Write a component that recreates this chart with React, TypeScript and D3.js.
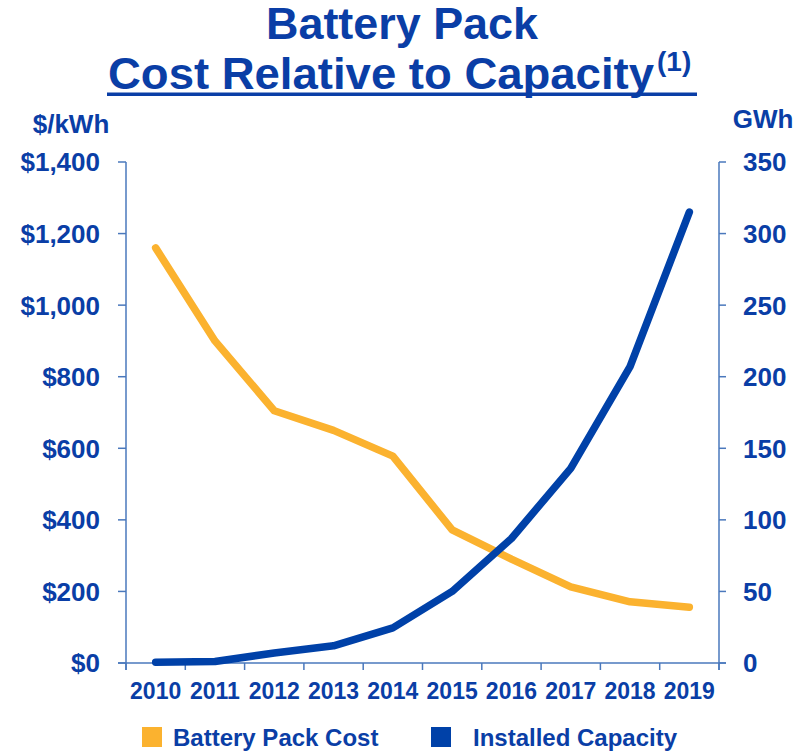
import React from "react";
import * as d3 from "d3";

const years = ["2010", "2011", "2012", "2013", "2014", "2015", "2016", "2017", "2018", "2019"];
const packCost = [1160, 900, 705, 650, 578, 372, 290, 213, 171, 156];
const installedCapacity = [0.5, 1, 7, 12, 24.5, 50, 87, 136, 207, 315];
const leftTicks = [0, 200, 400, 600, 800, 1000, 1200, 1400];
const rightTicks = [0, 50, 100, 150, 200, 250, 300, 350];
const seriesNames = ["Battery Pack Cost", "Installed Capacity"];

const W = 800;
const H = 754;
const M = { left: 126, right: 719, top: 162, bottom: 663 };
const TEXT = "#0A3EA6";
const BLUE = "#0041A8";
const ORANGE = "#FBB22F";
const AXIS = "#4A78BC";
const FONT = "'Liberation Sans', Arial, Helvetica, sans-serif";

export default function App() {
  const x = d3.scaleBand<string>().domain(years).range([M.left, M.right]).paddingInner(0).paddingOuter(0);
  const yL = d3.scaleLinear().domain([0, 1400]).range([M.bottom, M.top]);
  const yR = d3.scaleLinear().domain([0, 350]).range([M.bottom, M.top]);
  const cx = (y: string) => (x(y) as number) + x.bandwidth() / 2;

  const costLine = d3
    .line<number>()
    .x((_, i) => cx(years[i]))
    .y((d) => yL(d));
  const capLine = d3
    .line<number>()
    .x((_, i) => cx(years[i]))
    .y((d) => yR(d));

  const boundaries = years.map((y) => x(y) as number).concat([M.right]);

  return (
    <div style={{ position: "absolute", left: 0, top: 0 }}>
      <svg width={W} height={H} style={{ display: "block", background: "#fff" }} fontFamily={FONT}>
        {/* Title */}
        <text
          x={402}
          y={39}
          textAnchor="middle"
          fontSize={44}
          fontWeight="bold"
          fill={TEXT}
          textLength={272}
          lengthAdjust="spacingAndGlyphs"
        >
          Battery Pack
        </text>
        <text
          x={108}
          y={88.5}
          fontSize={44}
          fontWeight="bold"
          fill={TEXT}
          textLength={546}
          lengthAdjust="spacingAndGlyphs"
        >
          Cost Relative to Capacity
        </text>
        <text x={657} y={71} fontSize={28} fontWeight="bold" fill={TEXT}>
          (1)
        </text>
        <rect x={107} y={92.5} width={590} height={3.5} fill={TEXT} />

        {/* Unit labels */}
        <text x={71} y={133} textAnchor="middle" fontSize={26} fontWeight="bold" fill={TEXT}>
          $/kWh
        </text>
        <text x={763} y={128} textAnchor="middle" fontSize={26} fontWeight="bold" fill={TEXT}>
          GWh
        </text>

        {/* Axes */}
        <g stroke={AXIS} strokeWidth={1.5} fill="none">
          <line x1={M.left} x2={M.left} y1={M.top} y2={M.bottom + 7} />
          <line x1={M.right} x2={M.right} y1={M.top} y2={M.bottom + 7} />
          <line x1={M.left - 8} x2={M.right + 7} y1={M.bottom} y2={M.bottom} />
          {leftTicks.map((t) => (
            <line key={"l" + t} x1={M.left - 8} x2={M.left} y1={yL(t)} y2={yL(t)} />
          ))}
          {rightTicks.map((t) => (
            <line key={"r" + t} x1={M.right} x2={M.right + 7} y1={yR(t)} y2={yR(t)} />
          ))}
          {boundaries.map((b, i) => (
            <line key={"b" + i} x1={b} x2={b} y1={M.bottom} y2={M.bottom + 7} />
          ))}
        </g>

        {/* Tick labels */}
        {leftTicks.map((t) => (
          <text
            key={"lt" + t}
            x={100}
            y={yL(t)}
            dy="0.36em"
            textAnchor="end"
            fontSize={26}
            fontWeight="bold"
            fill={TEXT}
          >
            {d3.format("$,")(t)}
          </text>
        ))}
        {rightTicks.map((t) => (
          <text
            key={"rt" + t}
            x={743}
            y={yR(t)}
            dy="0.36em"
            textAnchor="start"
            fontSize={26}
            fontWeight="bold"
            fill={TEXT}
          >
            {t}
          </text>
        ))}
        {years.map((yr) => (
          <text key={"x" + yr} x={cx(yr)} y={699} textAnchor="middle" fontSize={23} fontWeight="bold" fill={TEXT}>
            {yr}
          </text>
        ))}

        {/* Lines */}
        <path
          d={costLine(packCost) as string}
          fill="none"
          stroke={ORANGE}
          strokeWidth={7.5}
          strokeLinecap="round"
          strokeLinejoin="round"
        />
        <path
          d={capLine(installedCapacity) as string}
          fill="none"
          stroke={BLUE}
          strokeWidth={7.5}
          strokeLinecap="round"
          strokeLinejoin="round"
        />

        {/* Legend */}
        <rect x={142} y={727} width={20} height={20} fill={ORANGE} />
        <text x={173} y={746} fontSize={24} fontWeight="bold" fill={TEXT}>
          {seriesNames[0]}
        </text>
        <rect x={431} y={727} width={20} height={20} fill={BLUE} />
        <text x={473} y={746} fontSize={24} fontWeight="bold" fill={TEXT}>
          {seriesNames[1]}
        </text>
      </svg>
    </div>
  );
}
